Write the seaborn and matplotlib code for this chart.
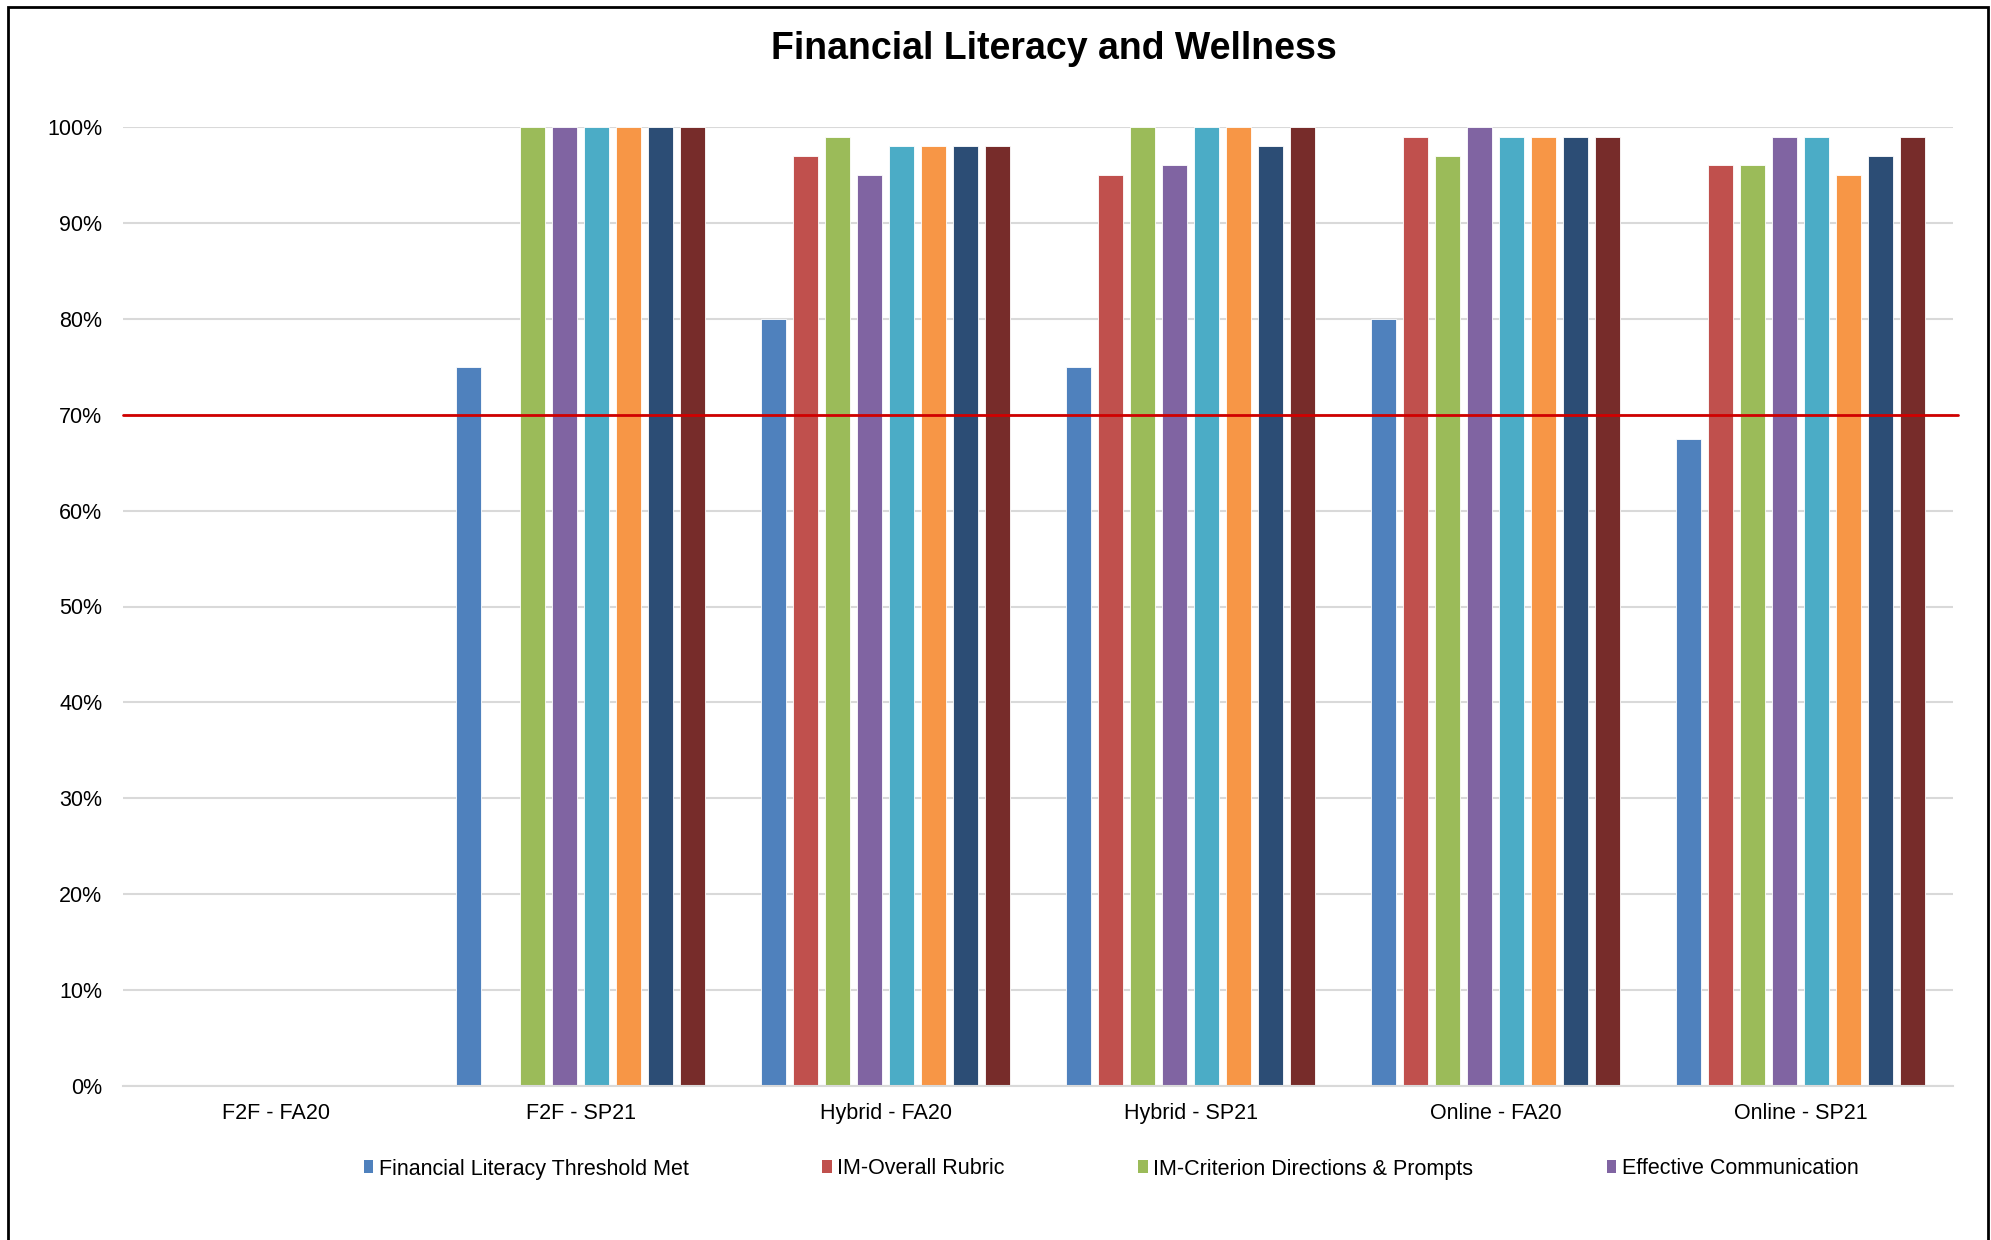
import matplotlib
matplotlib.use('Agg')
import pandas as pd
from matplotlib import pyplot as plt
from matplotlib.patches import Patch, Rectangle
from matplotlib.ticker import PercentFormatter
import seaborn as sns
import numpy as np

nan = np.nan

categories = ['F2F - FA20', 'F2F - SP21', 'Hybrid - FA20', 'Hybrid - SP21', 'Online - FA20', 'Online - SP21']

# only the first four series are named in the visible legend
seriesNames = ['Financial Literacy Threshold Met', 'IM-Overall Rubric',
               'IM-Criterion Directions & Prompts', 'Effective Communication',
               'Series 5', 'Series 6', 'Series 7', 'Series 8']
legendShown = 4

thresholdMet = [nan, 0.75, 0.80, 0.75, 0.80, 0.675]
imOverall = [nan, nan, 0.97, 0.95, 0.99, 0.96]
imCriterion = [nan, 1.00, 0.99, 1.00, 0.97, 0.96]
effectiveComm = [nan, 1.00, 0.95, 0.96, 1.00, 0.99]
series5 = [nan, 1.00, 0.98, 1.00, 0.99, 0.99]
series6 = [nan, 1.00, 0.98, 1.00, 0.99, 0.95]
series7 = [nan, 1.00, 0.98, 0.98, 0.99, 0.97]
series8 = [nan, 1.00, 0.98, 1.00, 0.99, 0.99]

targetLine = 0.70

colors = ['#4F81BD', '#C0504D', '#9BBB59', '#8064A2', '#4BACC6', '#F79646', '#2C4D75', '#772C2A']

allSeries = [thresholdMet, imOverall, imCriterion, effectiveComm, series5, series6, series7, series8]
rows = []
for name, vals in zip(seriesNames, allSeries):
    for cat, v in zip(categories, vals):
        rows.append({'category': cat, 'series': name, 'value': v})
df = pd.DataFrame(rows)

sns.set_style('white')
plt.rcParams['font.family'] = ['Liberation Sans', 'DejaVu Sans']
plt.rcParams['text.color'] = 'black'
plt.rcParams['xtick.color'] = 'black'
plt.rcParams['ytick.color'] = 'black'

fig = plt.figure(figsize=(19.91, 12.40), dpi=100)
ax = fig.add_axes([123 / 1991, 1 - 1086 / 1240, (1953 - 123) / 1991, (1086 - 127) / 1240])

sns.barplot(ax=ax, data=df, x='category', y='value', hue='series', order=categories,
            hue_order=seriesNames, palette=colors, saturation=1, width=0.84, gap=0.22,
            errorbar=None, legend=False, edgecolor='white', linewidth=0.6, zorder=2)

ax.set_ylim(0, 1.0)
ax.set_xlim(-0.5, len(categories) - 0.5)
ax.set_yticks(np.arange(0, 1.01, 0.1))
ax.yaxis.set_major_formatter(PercentFormatter(1.0, decimals=0))
ax.grid(axis='y', color='#D9D9D9', linewidth=1.5, zorder=0)
ax.set_axisbelow(True)
ax.set_xlabel('')
ax.set_ylabel('')
ax.tick_params(axis='y', length=0, pad=15, labelsize=15.5, labelcolor='black')
ax.tick_params(axis='x', length=0, pad=12, labelsize=15.5, labelcolor='black')
for side in ['top', 'right', 'left']:
    ax.spines[side].set_visible(False)
ax.spines['bottom'].set_color('#D9D9D9')
ax.spines['bottom'].set_linewidth(1.5)

ax.axhline(targetLine, color='#D00000', linewidth=2, zorder=3, xmax=1.003, clip_on=False)

fig.text(1054 / 1991, 1 - 49 / 1240, 'Financial Literacy and Wellness', color='black',
         fontsize=27, fontweight='bold', ha='center', va='center')

handles = [Patch(facecolor=c, edgecolor='none') for c in colors[:legendShown]]
fig.legend(handles, seriesNames[:legendShown], loc='center', bbox_to_anchor=(1111 / 1991, 1 - 1169 / 1240),
           ncol=legendShown, frameon=False, fontsize=15.5, handlelength=0.45, handleheight=0.55,
           handletextpad=0.25, columnspacing=6.2, labelcolor='black')

# outer chart border (bottom edge falls outside the image)
fig.patches.append(Rectangle((8 / 1991, -0.05), (1988 - 8) / 1991, 1.05 - 7 / 1240,
                             transform=fig.transFigure, fill=False, edgecolor='black',
                             linewidth=2, clip_on=False))

plt.savefig('out.png', dpi=100)
plt.close()
